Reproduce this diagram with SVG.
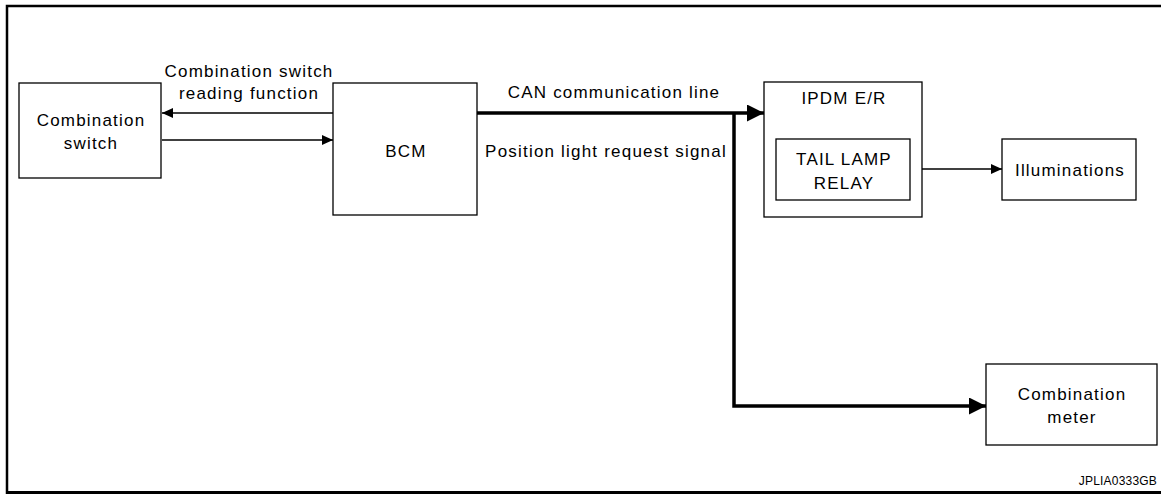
<svg xmlns="http://www.w3.org/2000/svg" width="1161" height="494" viewBox="0 0 1161 494">
<style>
.box{fill:#fff;stroke:#000;stroke-width:1.3}
.t{font-family:"Liberation Sans",Arial,sans-serif;font-size:17px;fill:#000;text-anchor:middle;letter-spacing:1.2px}
.thin{stroke:#000;stroke-width:1.3;fill:none}
.thick{stroke:#000;stroke-width:3.5;fill:none}
</style>
<defs>
<marker id="ah" viewBox="0 0 10 10" refX="10" refY="5" markerWidth="11" markerHeight="10" markerUnits="userSpaceOnUse" orient="auto" preserveAspectRatio="none"><path d="M0,0 L10,5 L0,10 z" fill="#000"/></marker>
<marker id="ahb" viewBox="0 0 10 10" refX="10" refY="5" markerWidth="17" markerHeight="17" markerUnits="userSpaceOnUse" orient="auto" preserveAspectRatio="none"><path d="M0,0 L10,5 L0,10 z" fill="#000"/></marker>
</defs>
<rect x="0" y="0" width="1161" height="494" fill="#fff"/>
<path d="M7,494 V6 H1161" stroke="#000" stroke-width="2.5" fill="none"/>
<path d="M6,492.5 H1161" stroke="#000" stroke-width="3" fill="none"/>
<g id="connectors">
<line class="thin" x1="333" y1="113" x2="162" y2="113" marker-end="url(#ah)"/>
<line class="thin" x1="162" y1="140" x2="333" y2="140" marker-end="url(#ah)"/>
<line class="thick" x1="477" y1="113" x2="764" y2="113" marker-end="url(#ahb)"/>
<path class="thick" d="M734,113 V406 H986" marker-end="url(#ahb)"/>
<line class="thin" x1="910" y1="169" x2="1002" y2="169" marker-end="url(#ah)"/>
<text class="t" x="249" y="77">Combination switch</text>
<text class="t" x="249" y="99">reading function</text>
<text class="t" x="614" y="98">CAN communication line</text>
<text class="t" x="606" y="157">Position light request signal</text>
</g>
<g id="combination-switch">
<rect class="box" x="19" y="83" width="142" height="95"/>
<text class="t" x="91" y="126">Combination</text>
<text class="t" x="91" y="149">switch</text>
</g>
<g id="bcm">
<rect class="box" x="333" y="83" width="144" height="132"/>
<text class="t" x="406" y="157">BCM</text>
</g>
<g id="ipdm">
<rect class="box" x="764" y="82" width="158" height="135"/>
<text class="t" x="844" y="104">IPDM E/R</text>
</g>
<g id="tail-lamp-relay">
<rect class="box" x="776" y="139" width="134" height="61"/>
<text class="t" x="844" y="165">TAIL LAMP</text>
<text class="t" x="844" y="189">RELAY</text>
</g>
<g id="illuminations">
<rect class="box" x="1002" y="139" width="134" height="61"/>
<text class="t" x="1070" y="176">Illuminations</text>
</g>
<g id="combination-meter">
<rect class="box" x="986" y="364" width="171" height="81"/>
<text class="t" x="1072" y="400">Combination</text>
<text class="t" x="1072" y="423">meter</text>
</g>
<text x="1157" y="485" font-family="Liberation Sans,Arial,sans-serif" font-size="12" letter-spacing="0.2" text-anchor="end">JPLIA0333GB</text>
</svg>
